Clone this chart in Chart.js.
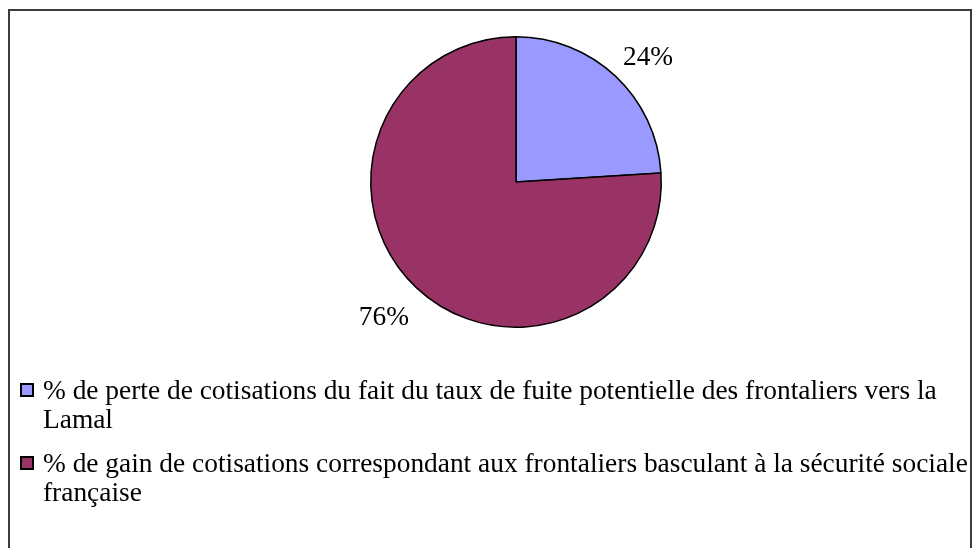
<!DOCTYPE html>
<html>
<head>
<meta charset="utf-8">
<script src="https://cdn.jsdelivr.net/npm/chart.js@4"></script>
<style>
  html, body { margin: 0; padding: 0; background: #fff; overflow: hidden; }
  #frame { position: absolute; left: 8px; top: 9px; width: 960px; height: 600px; border: 2px solid #3c3c3c; }
  #wrap { position: absolute; left: 0; top: 0; width: 976px; height: 548px; }
</style>
</head>
<body>
<div id="frame"></div>
<div id="wrap"><canvas id="pieChart" width="976" height="548"></canvas></div>
<script>
// legend text, already split the way the original wraps it
const categories = [
  ["% de perte de cotisations du fait du taux de fuite potentielle des frontaliers vers la", "Lamal"],
  ["% de gain de cotisations correspondant aux frontaliers basculant à la sécurité sociale", "française"]
];
const shares = [24, 76];
const percentLabels = ["24%", "76%"];
const sliceColors = ["#9999ff", "#993366"];

const textFont = "27.4px 'Liberation Serif', 'DejaVu Serif', serif";

// percent labels outside of each slice, box corner placed just off the rim
const sliceLabels = {
  id: "sliceLabels",
  afterDatasetsDraw(chart) {
    const ctx = chart.ctx;
    const arcs = chart.getDatasetMeta(0).data;
    ctx.save();
    ctx.font = textFont;
    ctx.fillStyle = "#000";
    ctx.textAlign = "center";
    ctx.textBaseline = "alphabetic";
    arcs.forEach((arc, i) => {
      const mid = (arc.startAngle + arc.endAngle) / 2;
      const ux = Math.cos(mid);
      const uy = Math.sin(mid);
      const d = arc.outerRadius + 11;
      const w = ctx.measureText(percentLabels[i]).width;
      const ax = arc.x + ux * d;
      const ay = arc.y + uy * d;
      const boxTop = uy < 0 ? ay - 32 : ay;
      ctx.fillText(percentLabels[i], ax + Math.sign(ux) * w / 2, boxTop + 29);
    });
    ctx.restore();
  }
};

// legend under the pie, with wrapped lines
const wrappedLegend = {
  id: "wrappedLegend",
  afterDraw(chart) {
    const ctx = chart.ctx;
    const colors = chart.data.datasets[0].backgroundColor;
    ctx.save();
    ctx.font = textFont;
    ctx.textBaseline = "alphabetic";
    let y = 399;
    chart.data.labels.forEach((lines, i) => {
      ctx.fillStyle = colors[i];
      ctx.fillRect(21, y - 15, 12, 12);
      ctx.strokeStyle = "#000";
      ctx.lineWidth = 2;
      ctx.strokeRect(21, y - 15, 12, 12);
      ctx.fillStyle = "#000";
      lines.forEach((line, j) => ctx.fillText(line, 43, y + j * 29));
      y += 73;
    });
    ctx.restore();
  }
};

const ctx = document.getElementById("pieChart").getContext("2d");
new Chart(ctx, {
  type: "pie",
  data: {
    labels: categories,
    datasets: [
      {
        data: shares,
        backgroundColor: sliceColors,
        borderColor: "#000",
        borderWidth: 1.5,
      },
    ],
  },
  options: {
    responsive: false,
    animation: false,
    layout: {
      padding: { top: 36, bottom: 220, left: 56, right: 0 },
    },
    plugins: {
      legend: { display: false },
      tooltip: { enabled: false },
    },
  },
  plugins: [sliceLabels, wrappedLegend],
});
</script>
</body>
</html>
